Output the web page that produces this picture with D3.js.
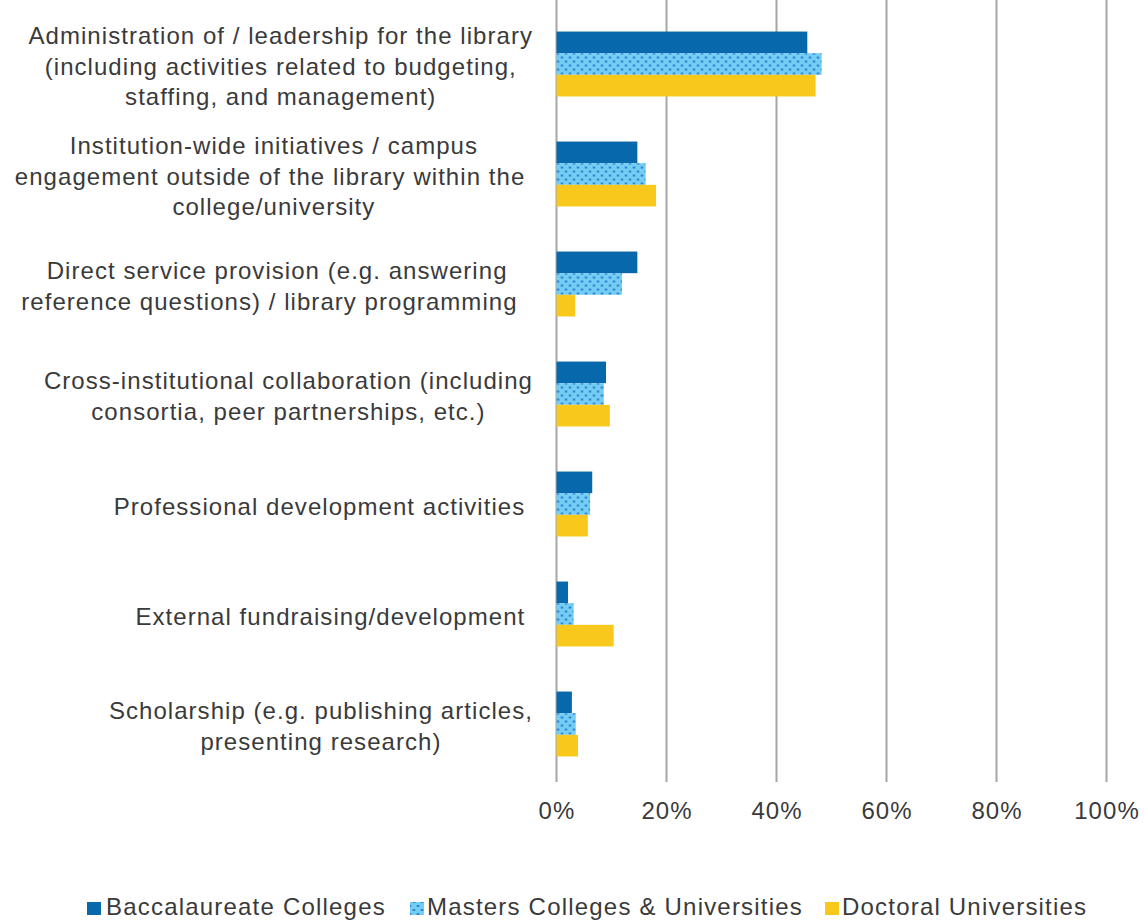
<!DOCTYPE html>
<html>
<head>
<meta charset="utf-8">
<script src="https://cdn.jsdelivr.net/npm/d3@7"></script>
<style>
  html, body { margin: 0; padding: 0; background: #fff; }
  svg { display: block; }
  text { font-family: "Liberation Sans", Arial, sans-serif; fill: #3a3a3a; white-space: pre; }
</style>
</head>
<body>
<svg id="chart" width="1146" height="921"></svg>
<script>
const categories = [
  ["Administration of / leadership for the library", "(including activities related to budgeting,", "staffing, and management)"],
  ["Institution-wide initiatives / campus", "engagement outside of the library within the ", "college/university"],
  ["Direct service provision (e.g. answering", "reference questions) / library programming  "],
  ["Cross-institutional collaboration (including", "consortia, peer partnerships, etc.)"],
  ["Professional development activities "],
  ["External fundraising/development "],
  ["Scholarship (e.g. publishing articles,", "presenting research)"]
];
const seriesNames = ["Baccalaureate Colleges", "Masters Colleges & Universities", "Doctoral Universities"];
const baccalaureate = [0.456, 0.147, 0.147, 0.090, 0.065, 0.021, 0.028];
const masters       = [0.482, 0.162, 0.119, 0.086, 0.061, 0.031, 0.035];
const doctoral      = [0.471, 0.181, 0.034, 0.097, 0.057, 0.104, 0.039];
const tickValues = [0, 0.2, 0.4, 0.6, 0.8, 1.0];

const seriesValues = [baccalaureate, masters, doctoral];
const fills = ["#0868ac", "url(#dots)", "#f8c91c"];

const svg = d3.select("#chart");
const defs = svg.append("defs");
const pat = defs.append("pattern").attr("id", "dots").attr("patternUnits", "userSpaceOnUse")
  .attr("width", 8).attr("height", 8);
pat.append("rect").attr("width", 8).attr("height", 8).attr("fill", "#74cdf2");
pat.append("ellipse").attr("cx", 2).attr("cy", 2).attr("rx", 1.6).attr("ry", 1.1).attr("fill", "#2a7fd6");
pat.append("ellipse").attr("cx", 6).attr("cy", 6).attr("rx", 1.6).attr("ry", 1.1).attr("fill", "#2a7fd6");

const x = d3.scaleLinear().domain([0, 1]).range([556.5, 1106.5]);
const catIdx = categories.map((_, i) => i);
const y = d3.scaleBand().domain(catIdx).range([9, 779]).paddingInner(0.41).paddingOuter(0.205);
const ys = d3.scaleBand().domain([0, 1, 2]).range([0, y.bandwidth()]);

// gridlines
svg.append("g").selectAll("line").data(tickValues).join("line")
  .attr("x1", d => x(d)).attr("x2", d => x(d))
  .attr("y1", 0).attr("y2", 782)
  .attr("stroke", "#a6a6a6").attr("stroke-width", 2);

// bars
const groups = svg.append("g").selectAll("g").data(catIdx).join("g")
  .attr("transform", i => `translate(0,${y(i)})`);
groups.selectAll("rect").data(i => seriesValues.map((s, k) => ({k, v: s[i]}))).join("rect")
  .attr("x", x(0))
  .attr("y", d => ys(d.k))
  .attr("width", d => x(d.v) - x(0))
  .attr("height", ys.bandwidth())
  .attr("fill", d => fills[d.k]);

const FS = 24, LS = "1.05px";

// x axis labels
const xAxis = d3.axisBottom(x).tickValues(tickValues).tickFormat(d3.format(".0%")).tickSize(0).tickPadding(0);
const ax = svg.append("g").attr("transform", "translate(0,819)").call(xAxis);
ax.select(".domain").remove();
ax.selectAll("text").attr("font-size", FS).attr("font-family", '"Liberation Sans", Arial, sans-serif')
  .attr("fill", "#3a3a3a").attr("dy", 0).attr("y", 0).attr("letter-spacing", LS);

// category labels
const rightEdge = 533;
const lineH = 30.5;
const labG = svg.append("g").attr("font-size", FS).attr("letter-spacing", LS);
catIdx.forEach(i => {
  const lines = categories[i];
  const cy = y(i) + y.bandwidth() / 2;
  const texts = lines.map((ln, j) => labG.append("text")
    .attr("y", cy + (j - (lines.length - 1) / 2) * lineH + 10.5)
    .attr("text-anchor", "middle").text(ln));
  const maxW = d3.max(texts, t => t.node().getComputedTextLength());
  texts.forEach(t => t.attr("x", rightEdge - maxW / 2));
});

// legend
const legendX = [87, 410, 825];
const lg = svg.append("g").attr("font-size", FS).attr("letter-spacing", "1.2px");
seriesNames.forEach((name, k) => {
  lg.append("rect").attr("x", legendX[k]).attr("y", 902).attr("width", 14).attr("height", 13).attr("fill", fills[k]);
  lg.append("text").attr("x", legendX[k] + (k === 0 ? 19 : 17)).attr("y", 915).text(name);
});
</script>
</body>
</html>
